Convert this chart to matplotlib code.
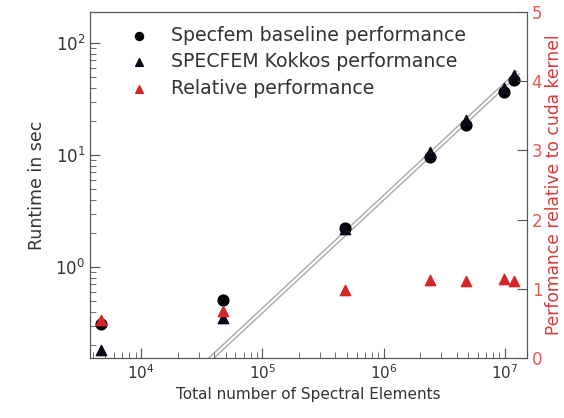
import numpy as np
import matplotlib.pyplot as plt
import matplotlib.ticker as mticker

# ── Data ─────────────────────────────────────────────────────────────────────
elements      = [4.7e3, 4.7e4, 4.8e5, 2.4e6, 4.8e6, 9.8e6, 1.2e7]
baseline_sec  = [0.31, 0.51, 2.25, 9.6, 18.6, 36.5, 47.0]
kokkos_sec    = [0.18, 0.35, 2.2, 10.6, 20.6, 40.0, 52.0]
relative_perf = [0.55, 0.68, 0.98, 1.13, 1.12, 1.14, 1.12]

# ideal linear scaling guide (end points)
scale_x = [3.6e4, 1.3e7]
scale_y = [0.146, 55.0]

RED = "#d62728"
TXT = "#333333"

plt.rcParams.update({
    "font.family": "DejaVu Sans", "font.size": 12,
    "axes.edgecolor": "#555555", "text.color": TXT,
    "axes.labelcolor": TXT, "xtick.color": "#555555", "ytick.color": "#555555",
    "xtick.labelcolor": TXT, "ytick.labelcolor": TXT,
})

fig, ax = plt.subplots(figsize=(5.64, 4.18), dpi=100)
fig.subplots_adjust(left=0.16, right=0.934, bottom=0.1435, top=0.971)

# scaling guide: gray double line
ax.plot(scale_x, scale_y, color="#a8a8a8", lw=3.6, solid_capstyle="butt", zorder=1)
ax.plot(scale_x, scale_y, color="white", lw=1.6, solid_capstyle="butt", zorder=1)

ax.scatter(elements, baseline_sec, marker="o", s=60, color="black", zorder=3,
           label="Specfem baseline performance")
ax.scatter(elements, kokkos_sec, marker="^", s=55, color="#0a0a1a", zorder=4,
           label="SPECFEM Kokkos performance")

ax.set_xscale("log")
ax.set_yscale("log")
ax.set_xlim(3800, 1.52e7)
ax.set_ylim(0.154, 189)
ax.xaxis.set_minor_formatter(mticker.NullFormatter())
ax.set_xlabel("Total number of Spectral Elements", fontsize=11)
ax.set_ylabel("Runtime in sec", fontsize=12.5, labelpad=7)
ax.tick_params(which="both", direction="in")
ax.tick_params(axis="x", labelsize=11)
ax.tick_params(axis="y", labelsize=12)
ax.tick_params(which="major", length=7)
ax.tick_params(which="minor", length=4)

ax2 = ax.twinx()
ax2.scatter(elements, relative_perf, marker="^", s=55, color=RED, zorder=4,
            label="Relative performance")
ax2.set_ylim(0, 5)
ax2.set_yticks([0, 1, 2, 3, 4, 5])
ax2.tick_params(direction="in", length=7, labelsize=12, labelcolor="#e05a5a")
ax2.set_ylabel("Perfomance relative to cuda kernel", color="#d43c3c",
               fontsize=12.3, labelpad=2)

h1, l1 = ax.get_legend_handles_labels()
h2, l2 = ax2.get_legend_handles_labels()
ax.legend(h1 + h2, l1 + l2, loc="upper left", bbox_to_anchor=(0.03, 1.01),
          frameon=False, fontsize=13.6, handletextpad=0.7, labelspacing=0.41,
          markerscale=0.75)

fig.savefig("out.png", dpi=100)
